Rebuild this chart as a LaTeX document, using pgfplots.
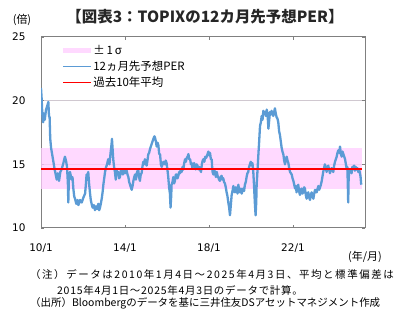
\documentclass[border=0pt]{standalone}
\usepackage{fontspec}
\setmainfont{Noto Sans CJK JP}
\newfontfamily\numfont{DejaVu Sans}
\newfontfamily\notewide[LetterSpace=15]{Noto Sans CJK JP}
\newfontfamily\notemid[LetterSpace=7]{Noto Sans CJK JP}
\usepackage{pgfplots}
\pgfplotsset{compat=1.18}
\definecolor{perblue}{HTML}{5B9BD5}
\definecolor{bandpink}{HTML}{FFCCFF}
\definecolor{framegray}{HTML}{808080}
\definecolor{gridgray}{HTML}{D0C8D0}
\definecolor{titlecol}{HTML}{262626}
\pgfplotstableread{
t v
2010.00 21.0
2010.03 20.2
2010.06 19.0
2010.10 18.3
2010.14 19.0
2010.18 18.5
2010.24 19.3
2010.30 19.6
2010.35 19.9
2010.38 18.8
2010.41 18.7
2010.44 17.0
2010.48 16.3
2010.53 15.8
2010.59 15.2
2010.65 14.6
2010.70 14.2
2010.75 13.8
2010.80 14.3
2010.86 13.7
2010.92 14.4
2010.98 14.6
2011.05 15.0
2011.14 15.6
2011.20 15.2
2011.24 14.8
2011.28 13.5
2011.30 12.0
2011.33 14.0
2011.38 14.4
2011.46 13.8
2011.50 14.0
2011.54 13.1
2011.58 12.5
2011.62 12.3
2011.68 11.9
2011.74 12.2
2011.78 11.8
2011.82 12.0
2011.86 12.2
2011.94 12.0
2012.02 12.4
2012.10 12.7
2012.14 13.5
2012.17 14.2
2012.21 14.0
2012.25 14.4
2012.29 13.5
2012.33 12.8
2012.37 12.2
2012.41 11.9
2012.46 11.6
2012.52 11.8
2012.57 11.4
2012.62 11.7
2012.67 11.5
2012.73 11.9
2012.77 11.4
2012.81 11.6
2012.86 12.0
2012.90 12.4
2012.94 12.9
2012.97 13.4
2013.01 13.9
2013.05 14.4
2013.10 14.8
2013.13 14.9
2013.20 15.4
2013.26 15.0
2013.32 16.0
2013.36 16.6
2013.38 17.0
2013.41 16.2
2013.44 15.4
2013.48 14.8
2013.52 14.4
2013.56 13.8
2013.60 14.6
2013.64 14.2
2013.68 14.4
2013.72 13.9
2013.76 14.0
2013.80 14.5
2013.84 14.6
2013.90 14.2
2013.95 14.5
2014.00 14.3
2014.04 14.6
2014.08 14.5
2014.12 14.2
2014.16 14.0
2014.20 13.6
2014.24 13.4
2014.28 13.2
2014.32 13.0
2014.36 13.3
2014.40 13.7
2014.44 14.0
2014.48 14.2
2014.52 13.8
2014.56 14.3
2014.60 14.5
2014.63 14.6
2014.67 14.0
2014.71 13.7
2014.75 14.2
2014.79 14.3
2014.83 14.8
2014.87 15.2
2014.91 15.0
2014.95 15.4
2014.99 15.1
2015.03 14.9
2015.07 15.3
2015.11 15.8
2015.15 15.9
2015.19 16.2
2015.23 16.4
2015.27 16.6
2015.31 16.8
2015.35 17.0
2015.40 17.2
2015.43 17.1
2015.47 16.8
2015.51 16.4
2015.55 16.7
2015.59 16.5
2015.63 15.8
2015.67 15.8
2015.71 15.0
2015.75 14.8
2015.79 15.0
2015.83 15.2
2015.87 15.1
2015.90 15.0
2015.94 15.3
2015.98 15.1
2016.02 14.6
2016.06 14.0
2016.10 13.2
2016.14 12.7
2016.17 11.6
2016.20 12.5
2016.22 13.4
2016.26 13.6
2016.30 14.0
2016.34 13.5
2016.38 13.7
2016.42 14.2
2016.46 14.2
2016.50 13.9
2016.54 14.1
2016.58 14.4
2016.62 14.3
2016.66 14.6
2016.70 14.4
2016.74 14.8
2016.78 14.6
2016.82 15.1
2016.86 15.4
2016.90 15.2
2016.94 15.5
2016.98 15.6
2017.02 15.8
2017.06 15.4
2017.10 15.4
2017.14 15.0
2017.17 15.1
2017.21 14.7
2017.25 14.9
2017.29 15.1
2017.33 14.9
2017.37 14.6
2017.41 15.0
2017.45 14.9
2017.49 14.6
2017.53 14.8
2017.57 14.6
2017.62 14.4
2017.66 15.0
2017.70 15.3
2017.73 15.4
2017.78 15.2
2017.82 15.6
2017.86 15.5
2017.89 15.6
2017.93 15.8
2017.97 16.0
2018.01 15.7
2018.05 15.9
2018.09 15.4
2018.13 15.4
2018.15 14.8
2018.17 14.4
2018.21 14.2
2018.25 14.6
2018.29 14.3
2018.33 14.0
2018.37 14.4
2018.41 14.1
2018.44 14.0
2018.48 13.8
2018.52 13.7
2018.56 14.0
2018.60 14.1
2018.64 13.8
2018.68 13.9
2018.72 13.6
2018.76 13.5
2018.80 13.2
2018.84 12.8
2018.88 12.5
2018.92 12.0
2018.96 11.6
2019.00 11.0
2019.04 11.8
2019.08 12.6
2019.12 12.9
2019.16 13.3
2019.20 12.9
2019.24 12.8
2019.28 13.2
2019.32 13.1
2019.36 12.7
2019.40 13.4
2019.44 12.9
2019.48 12.8
2019.52 13.1
2019.56 12.7
2019.60 13.0
2019.63 13.1
2019.67 12.9
2019.71 13.4
2019.75 13.6
2019.79 14.0
2019.83 14.3
2019.87 14.4
2019.91 14.8
2019.95 15.0
2019.99 15.2
2020.03 14.9
2020.07 15.1
2020.11 14.4
2020.14 13.5
2020.16 12.8
2020.19 11.8
2020.22 11.0
2020.25 12.0
2020.27 13.4
2020.31 14.5
2020.35 15.7
2020.39 16.8
2020.43 18.0
2020.47 18.3
2020.51 18.8
2020.55 18.5
2020.59 19.2
2020.63 19.0
2020.67 19.1
2020.71 18.8
2020.75 19.3
2020.79 18.9
2020.83 17.8
2020.87 18.5
2020.90 19.1
2020.94 18.9
2020.98 19.2
2021.02 19.0
2021.06 18.8
2021.10 19.1
2021.14 19.4
2021.18 19.0
2021.22 18.7
2021.26 18.6
2021.30 18.3
2021.34 17.6
2021.38 17.3
2021.42 16.8
2021.46 16.3
2021.50 16.0
2021.54 15.8
2021.58 15.3
2021.62 15.0
2021.66 15.4
2021.70 15.6
2021.74 15.3
2021.78 15.1
2021.82 14.7
2021.86 14.4
2021.90 14.3
2021.94 14.2
2021.98 13.9
2022.02 13.7
2022.06 13.4
2022.10 13.1
2022.14 13.3
2022.17 12.8
2022.21 13.1
2022.25 13.4
2022.29 12.9
2022.33 12.6
2022.37 13.0
2022.41 13.1
2022.45 12.7
2022.49 12.8
2022.53 13.2
2022.57 13.1
2022.61 12.6
2022.65 12.3
2022.69 12.7
2022.73 12.8
2022.77 12.4
2022.81 12.2
2022.85 12.6
2022.89 12.8
2022.93 12.5
2022.97 12.3
2023.01 12.7
2023.05 13.0
2023.09 12.8
2023.13 12.8
2023.17 13.1
2023.21 13.3
2023.25 13.0
2023.29 13.2
2023.33 13.4
2023.37 13.7
2023.41 14.1
2023.44 14.4
2023.48 14.7
2023.52 15.0
2023.56 14.8
2023.60 14.4
2023.64 14.7
2023.68 14.9
2023.72 14.6
2023.76 14.3
2023.80 14.6
2023.84 14.7
2023.88 14.5
2023.92 14.4
2023.96 14.9
2024.00 15.2
2024.04 15.4
2024.08 15.6
2024.12 15.9
2024.16 16.1
2024.20 15.9
2024.24 16.4
2024.28 15.8
2024.32 15.6
2024.36 16.0
2024.40 15.8
2024.44 15.6
2024.48 15.4
2024.52 15.0
2024.56 14.6
2024.59 14.8
2024.61 13.5
2024.63 12.0
2024.65 13.8
2024.68 14.6
2024.71 14.4
2024.75 14.6
2024.79 14.3
2024.83 14.8
2024.87 14.7
2024.91 14.9
2024.95 14.5
2024.99 14.8
2025.03 14.6
2025.07 14.7
2025.11 14.4
2025.15 14.6
2025.19 14.3
2025.22 14.0
2025.25 13.4
}\pertable
\begin{document}
\begin{tikzpicture}[x=1bp,y=1bp]
\begin{axis}[
  at={(41bp,96bp)}, anchor=south west,
  width=324bp, height=191bp, scale only axis,
  xmin=2010, xmax=2025.43, ymin=10, ymax=25,
  xtick={2010,2014,2018,2022}, xticklabels={10/1,14/1,18/1,22/1},
  ytick={10,15,20,25},
  tick align=inside, major tick length=3bp,
  tick style={draw=framegray, line width=0.8bp},
  axis line style={draw=framegray, line width=1bp},
  ymajorgrids, grid style={draw=gridgray, line width=1bp},
  ticklabel style={font=\numfont\fontsize{10.5}{12}\selectfont, text=black},
  /pgf/number format/assume math mode=true,
  yticklabel style={xshift=-12bp},
  xticklabel style={yshift=-12bp},
  legend style={at={(rel axis cs:0.065,0.965)}, anchor=north west, draw=none, fill=none,
    font=\fontsize{11.5}{13}\selectfont, row sep=2bp, inner sep=0pt,
    nodes={inner sep=1.5bp}},
  legend cell align=left,
]
\addplot[draw=none, fill=bandpink, fill opacity=0.75,
  legend image code/.code={\fill[bandpink] (0bp,-2.5bp) rectangle (28bp,2.5bp);}]
  coordinates {(2010,13.05) (2025.28,13.05) (2025.28,16.25) (2010,16.25)} -- cycle;
\addlegendentry{±\,1\,σ}
\addplot[perblue, line width=2.3bp, line join=round,
  legend image code/.code={\draw[perblue, line width=1.6bp] (0bp,0bp) -- (28bp,0bp);}]
  table[x=t, y=v] {\pertable};
\addlegendentry{12ヵ月先予想PER}
\addplot[red, line width=1.8bp,
  legend image code/.code={\draw[red, line width=1.2bp] (0bp,0bp) -- (28bp,0bp);}]
  coordinates {(2010,14.65) (2025.28,14.65)};
\addlegendentry{過去10年平均}
\end{axis}
\node[font=\bfseries\fontsize{15.5}{17}\selectfont, text=titlecol] at (205bp,307bp) {【図表3：TOPIXの12カ月先予想PER】};
\node[font=\fontsize{11}{12}\selectfont] at (22bp,304bp) {(倍)};
\node[font=\fontsize{11}{12}\selectfont] at (365bp,67bp) {(年/月)};
\node[font=\notewide\fontsize{10.5}{12}\selectfont, anchor=west, inner sep=0pt] at (30bp,49bp) {（注）データは2010年1月4日～2025年4月3日、平均と標準偏差は};
\node[font=\notemid\fontsize{10.5}{12}\selectfont, anchor=west, inner sep=0pt] at (57bp,34bp) {2015年4月1日～2025年4月3日のデータで計算。};
\node[font=\fontsize{10.5}{12}\selectfont, anchor=west, inner sep=0pt] at (30bp,21bp) {（出所）Bloombergのデータを基に三井住友DSアセットマネジメント作成};
\pgfresetboundingbox
\useasboundingbox (0,0) rectangle (403bp,324bp);
\end{tikzpicture}
\end{document}
